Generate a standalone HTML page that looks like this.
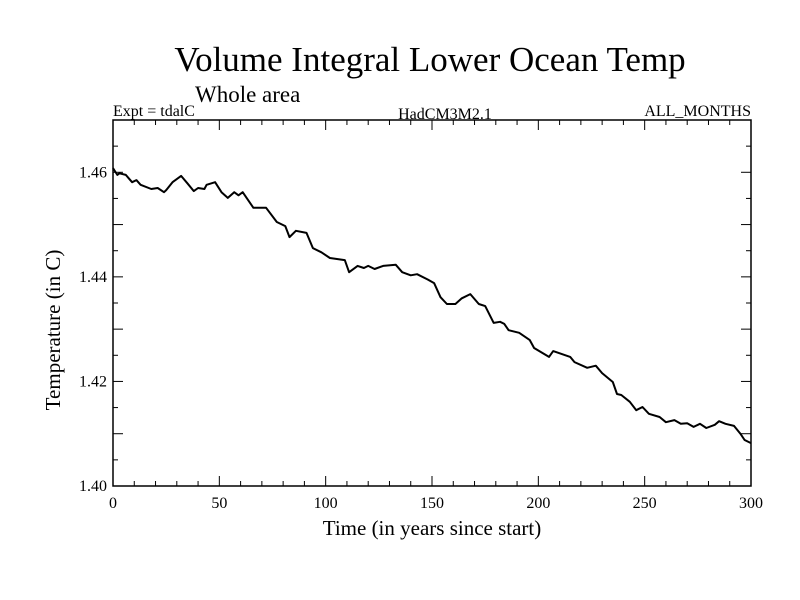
<!DOCTYPE html>
<html><head><meta charset="utf-8"><style>
body{margin:0;background:#fff}
svg{display:block;font-family:"Liberation Serif",serif}
</style></head><body>
<svg id="chart" width="800" height="600" viewBox="0 0 800 600">
<rect width="800" height="600" fill="#fff"/>
<text x="430" y="71" font-size="35" text-anchor="middle">Volume Integral Lower Ocean Temp</text>
<text x="195" y="102" font-size="23">Whole area</text>
<text x="113" y="116" font-size="16">Expt = tdalC</text>
<text x="445" y="119" font-size="16" text-anchor="middle">HadCM3M2.1</text>
<text x="751" y="116" font-size="16" text-anchor="end">ALL_MONTHS</text>
<g id="axes"></g>
<text x="432" y="535" font-size="21" text-anchor="middle">Time (in years since start)</text>
<text transform="translate(60,330) rotate(-90)" font-size="21" text-anchor="middle">Temperature (in C)</text>
</svg>
<script>
const years=[0,2,3,6,9,11,13,18,21,24,25,28,32,35,38,40,43,44,48,51,54,57,59,61,66,72,77,81,83,86,91,94,98,102,109,111,115,118,120,123,127,133,136,140,143,148,151,154,157,161,164,168,172,175,179,182,184,186,191,196,198,205,207,215,217,223,227,230,235,237,239,243,246,249,252,257,260,264,267,270,273,276,279,283,285,288,292,295,297,300];
const temps=[1.4608,1.4595,1.4598,1.4595,1.4581,1.4585,1.4576,1.4568,1.457,1.4562,1.4566,1.4581,1.4593,1.4579,1.4564,1.457,1.4568,1.4576,1.4581,1.4562,1.4551,1.4562,1.4556,1.4562,1.4532,1.4532,1.4505,1.4497,1.4476,1.4488,1.4484,1.4455,1.4447,1.4436,1.4432,1.4409,1.4421,1.4417,1.4421,1.4415,1.4421,1.4423,1.4409,1.4403,1.4405,1.4395,1.4388,1.4361,1.4348,1.4348,1.4359,1.4367,1.4348,1.4344,1.4312,1.4314,1.431,1.4298,1.4293,1.4279,1.4264,1.4247,1.4258,1.4247,1.4237,1.4226,1.423,1.4216,1.4199,1.4176,1.4174,1.4161,1.4145,1.4151,1.4138,1.4132,1.4122,1.4126,1.4119,1.412,1.4113,1.4119,1.4111,1.4117,1.4124,1.4119,1.4115,1.41,1.4088,1.4082];
const xTickLabels=["0","50","100","150","200","250","300"];
const yTickLabels=["1.40","1.42","1.44","1.46"];
const X0=113,X1=751,Y0=486,Y1=120;
const xMin=0,xMax=300,yMin=1.40,yMax=1.47;
const sx=v=>X0+(v-xMin)/(xMax-xMin)*(X1-X0);
const sy=v=>Y0-(v-yMin)/(yMax-yMin)*(Y0-Y1);
const NS="http://www.w3.org/2000/svg";
const g=document.getElementById('axes');
function mk(t,a){const e=document.createElementNS(NS,t);for(const k in a)e.setAttribute(k,a[k]);g.appendChild(e);return e;}
const frame=mk('rect',{x:X0,y:Y1,width:X1-X0,height:Y0-Y1,fill:'none',stroke:'#000','stroke-width':1.5});


for(let v=0;v<=300;v+=10){const x=sx(v),L=(v%50===0)?10:5;
 const t1=mk('line',{x1:x,y1:Y0,x2:x,y2:Y0-L,stroke:'#000'});
 
 
 const t2=mk('line',{x1:x,y1:Y1,x2:x,y2:Y1+L,stroke:'#000'});
 
 }
xTickLabels.forEach(s=>{const t=mk('text',{x:sx(+s),y:Y0+22,'font-size':16,'text-anchor':'middle'});t.textContent=s;
 
 });
for(let i=0;i<=14;i++){const v=1.40+i*0.005,y=sy(v),L=(i%2===0)?10:5;
 const t1=mk('line',{x1:X0,y1:y,x2:X0+L,y2:y,stroke:'#000'});
 
 
 const t2=mk('line',{x1:X1,y1:y,x2:X1-L,y2:y,stroke:'#000'});
 
 }
yTickLabels.forEach(s=>{const t=mk('text',{x:X0-6,y:sy(+s)+5,'font-size':16,'text-anchor':'end'});t.textContent=s;
 
 });
const d=years.map((v,i)=>(i?'L':'M')+sx(v).toFixed(1)+','+sy(temps[i]).toFixed(1)).join('');
const line=mk('path',{d:d,fill:'none',stroke:'#000','stroke-width':2,'stroke-linejoin':'round'});


</script>
</body></html>
